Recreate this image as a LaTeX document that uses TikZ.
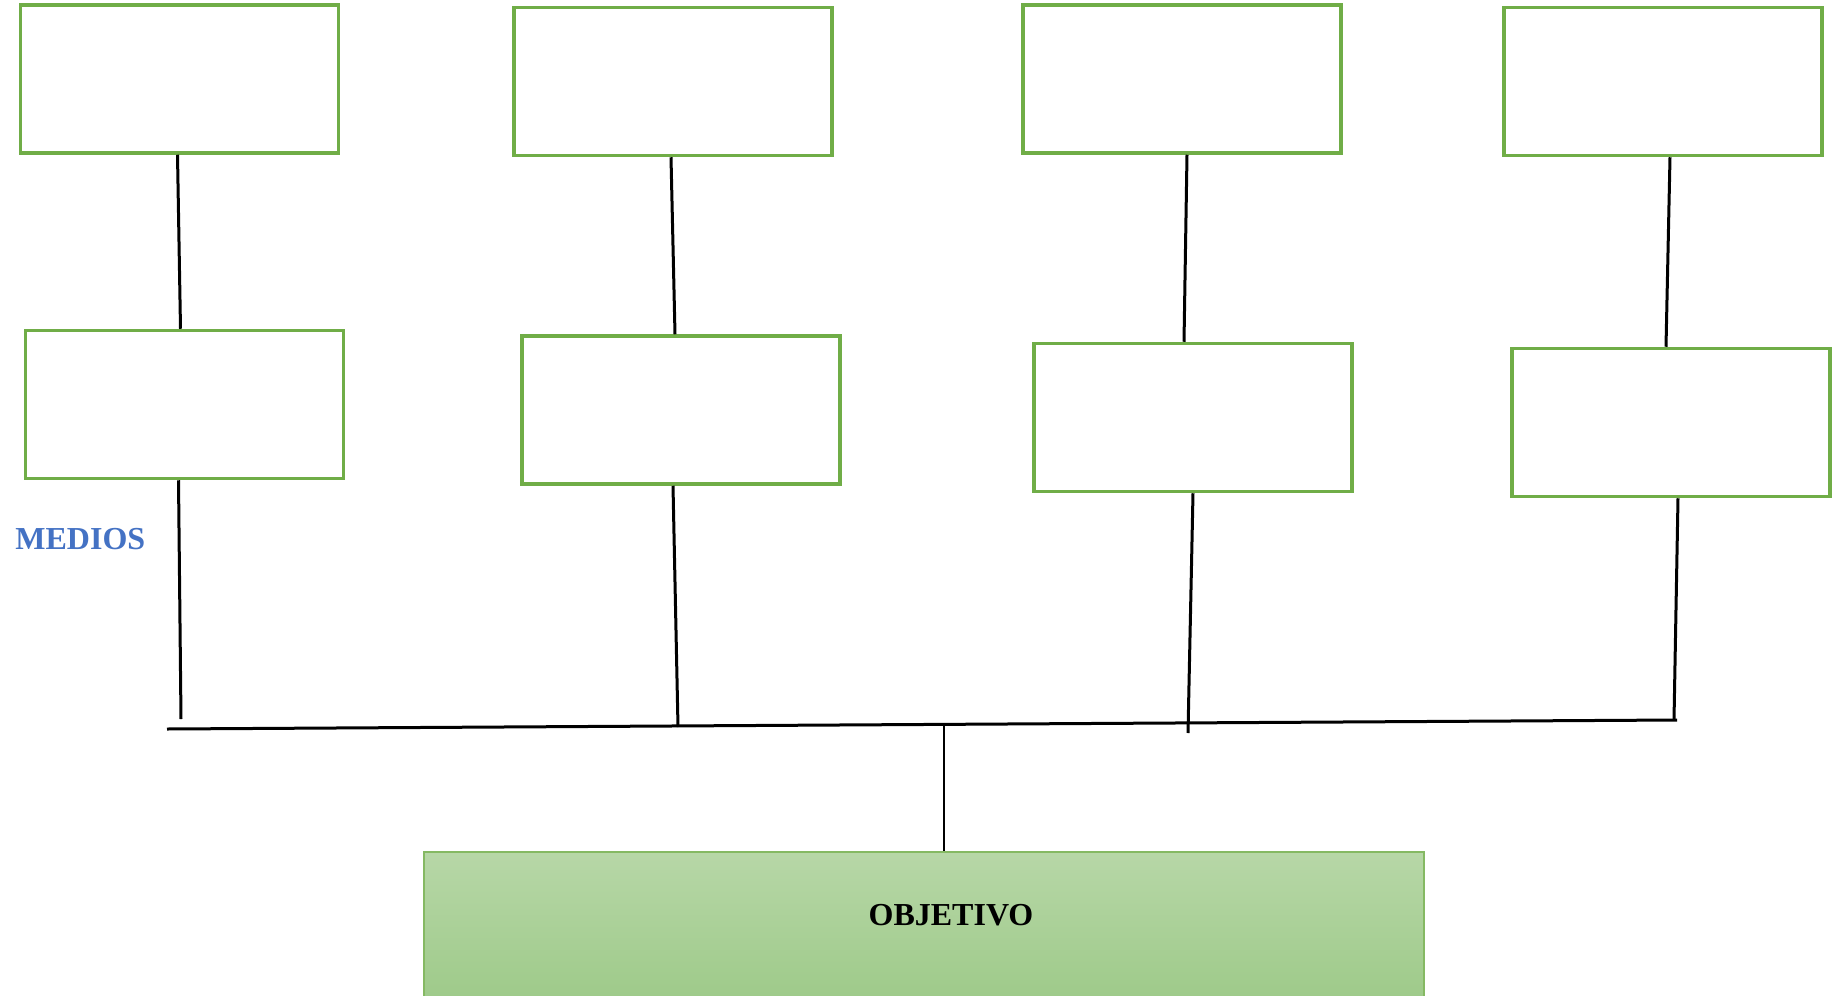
\documentclass[tikz,border=0pt]{standalone}
\usepackage{fontspec}
\setmainfont{Liberation Serif}
\usetikzlibrary{positioning, calc}
\definecolor{boxgreen}{RGB}{112,173,71}
\definecolor{objtop}{RGB}{183,215,167}
\definecolor{objbot}{RGB}{156,201,135}
\definecolor{medblue}{RGB}{68,114,196}
\tikzset{
  medio/.style={rectangle, draw=boxgreen, line width=1.75pt, fill=white,
    minimum width=159pt, minimum height=74pt, inner sep=0pt},
  obj/.style={rectangle, draw=boxgreen!85, line width=0.8pt,
    top color=objtop, bottom color=objbot,
    minimum width=500pt, minimum height=80pt, inner sep=0pt},
  link/.style={line width=1.5pt, black},
  stem/.style={line width=1pt, black},
  lbl/.style={font=\fontsize{16}{19}\selectfont\bfseries, inner sep=0pt}
}

\begin{document}
\begin{tikzpicture}[x=0.5pt, y=-0.5pt]
  \clip (0,0) rectangle (1832,996);

  % upper row
  \node[medio] (t1) at (179.5,79) {};
  \node[medio] (t2) at (673,81.5) {};
  \node[medio] (t3) at (1182,79) {};
  \node[medio] (t4) at (1663,81.5) {};

  % lower row
  \node[medio] (m1) at (184.5,404.5) {};
  \node[medio] (m2) at (681,410) {};
  \node[medio] (m3) at (1193,417.5) {};
  \node[medio] (m4) at (1671,422.5) {};

  \node[lbl, text=medblue, anchor=base west] (medios) at (15,549) {MEDIOS};

  % objective
  \node[obj] (obj) at (924,932) {};
  \node[lbl, anchor=base] (objlabel) at (951,925) {OBJETIVO};

  % bus
  \coordinate (bl) at (167,729);
  \coordinate (br) at (1677,720);
  \coordinate (b1) at (181,719);
  \coordinate (b2) at (678,727);
  \coordinate (b3) at (1188,733);
  \coordinate (b4) at (1674,720);
  \coordinate (j) at (944,724);

  \draw[link] ([xshift=-1pt]t1.south) -- ([xshift=-2pt]m1.north);
  \draw[link] ([xshift=-1pt]t2.south) -- ([xshift=-3pt]m2.north);
  \draw[link] ([xshift=2.5pt]t3.south) -- ([xshift=-4.5pt]m3.north);
  \draw[link] ([xshift=3.5pt]t4.south) -- ([xshift=-2.5pt]m4.north);

  \draw[link] ([xshift=-3pt]m1.south) -- (b1);
  \draw[link] ([xshift=-4pt]m2.south) -- (b2);
  \draw[link] (m3.south) -- (b3);
  \draw[link] ([xshift=3.5pt]m4.south) -- (b4);

  \draw[link] (bl) -- (br);
  \draw[stem] (j) -- (j |- obj.north);
\end{tikzpicture}
\end{document}
